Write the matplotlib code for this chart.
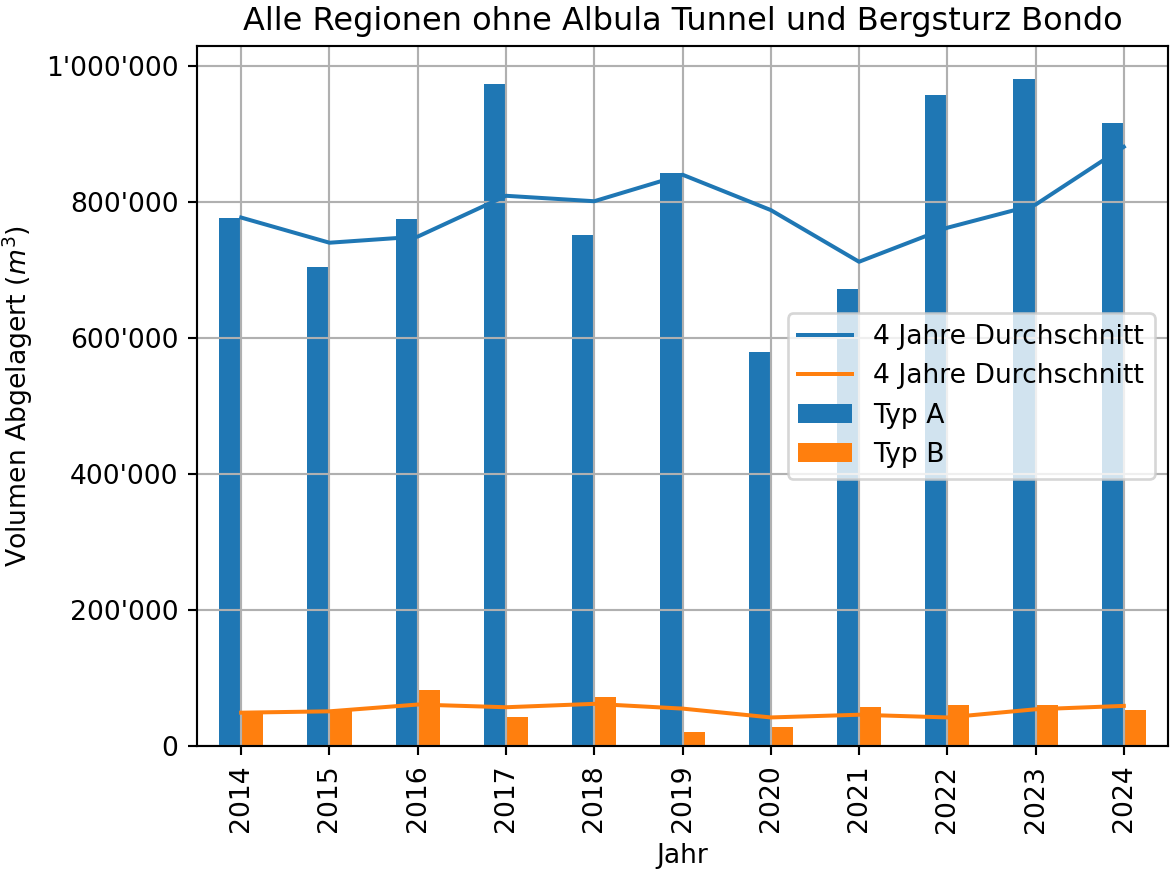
import matplotlib.pyplot as plt
from matplotlib.ticker import FuncFormatter

jahre = [2014, 2015, 2016, 2017, 2018, 2019, 2020, 2021, 2022, 2023, 2024]

# Volumen pro Jahr (m3)
typ_a = [776000, 704000, 775000, 973000, 752000, 843000, 579000, 672000, 957000, 980000, 916000]
typ_b = [49000, 51500, 83000, 43000, 71500, 21000, 28500, 57000, 61000, 60000, 52500]

# gleitender 4 Jahre Durchschnitt
avg_a = [777000, 740000, 749000, 809000, 801000, 840000, 788000, 712000, 762000, 796000, 881000]
avg_b = [49000, 51000, 61000, 57000, 62000, 55000, 42000, 46000, 42000, 54000, 59000]

dpi = 192
fig, ax = plt.subplots(figsize=(1173 / dpi, 871 / dpi), dpi=dpi)
fig.subplots_adjust(left=0.168, right=0.9957, top=0.947, bottom=0.1435)

ax.plot(jahre, avg_a, color='tab:blue', label='4 Jahre Durchschnitt')
ax.plot(jahre, avg_b, color='tab:orange', label='4 Jahre Durchschnitt')
ax.bar(jahre, typ_a, width=-0.25, align='edge', color='tab:blue', label='Typ A')
ax.bar(jahre, typ_b, width=0.25, align='edge', color='tab:orange', label='Typ B')

ax.set_xlim(2013.5, 2024.5)
ax.set_xticks(jahre)
ax.set_xticklabels([str(j) for j in jahre], rotation=90)
ax.yaxis.set_major_formatter(FuncFormatter(lambda v, p: f"{v:,.0f}".replace(",", "'")))

ax.grid(True)
ax.set_title('Alle Regionen ohne Albula Tunnel und Bergsturz Bondo')
ax.set_xlabel('Jahr')
ax.set_ylabel('Volumen Abgelagert ($m^3$)')
ax.legend(loc='center right')

plt.savefig('out.png', dpi=dpi)
